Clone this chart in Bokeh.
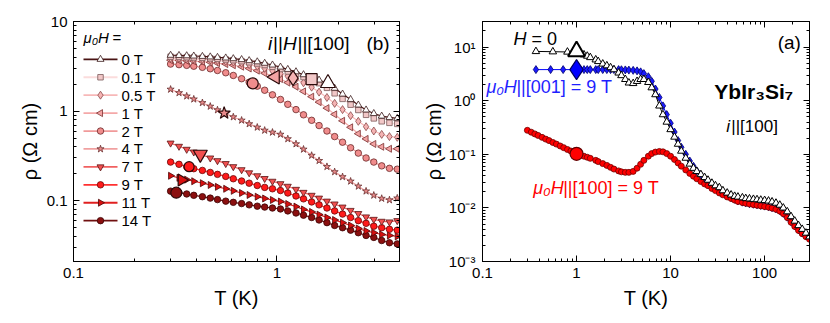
import math
from bokeh.plotting import figure
from bokeh.layouts import row
from bokeh.models import (FixedTicker, LogAxis, CustomJSTickFormatter, Label, Range1d)
from bokeh.embed import file_html
from bokeh.resources import INLINE

FONT = "Liberation Sans"

# ---------------- Panel (b): rho(T) at several fields, i||H||[100] ----------------
T_b = [0.30, 0.33, 0.36, 0.39, 0.43, 0.47, 0.51, 0.56, 0.61, 0.67, 0.73, 0.80, 0.87, 0.95,
       1.04, 1.13, 1.24, 1.35, 1.48, 1.61, 1.76, 1.92, 2.10, 2.30, 2.51, 2.74, 2.99, 3.27, 3.57, 3.90]
field_labels = ["0 T", "0.1 T", "0.5 T", "1 T", "2 T", "4 T", "7 T", "9 T", "11 T", "14 T"]
rho_0T = [4.20, 4.18, 4.15, 4.12, 4.08, 4.03, 3.98, 3.92, 3.85, 3.76, 3.66, 3.55, 3.42, 3.27,
          3.10, 2.92, 2.75, 2.55, 2.38, 2.22, 2.05, 1.80, 1.55, 1.35, 1.17, 1.03, 0.94, 0.88, 0.85, 0.83]
rho_01T = [4.05, 4.03, 4.00, 3.97, 3.93, 3.88, 3.83, 3.77, 3.70, 3.61, 3.51, 3.40, 3.27, 3.12,
           2.95, 2.77, 2.58, 2.40, 2.25, 2.05, 1.82, 1.58, 1.37, 1.18, 1.03, 0.91, 0.83, 0.77, 0.74, 0.72]
rho_05T = [3.90, 3.88, 3.85, 3.82, 3.78, 3.73, 3.67, 3.60, 3.52, 3.42, 3.30, 3.16, 3.00, 2.82,
           2.63, 2.45, 2.27, 2.07, 1.85, 1.63, 1.42, 1.22, 1.04, 0.89, 0.77, 0.67, 0.60, 0.55, 0.52, 0.51]
rho_1T = [3.70, 3.68, 3.65, 3.61, 3.56, 3.50, 3.43, 3.35, 3.25, 3.13, 2.99, 2.83, 2.65, 2.47,
          2.28, 2.08, 1.87, 1.66, 1.45, 1.26, 1.08, 0.92, 0.78, 0.66, 0.56, 0.49, 0.43, 0.40, 0.38, 0.38]
rho_2T = [3.35, 3.30, 3.24, 3.17, 3.08, 2.97, 2.84, 2.68, 2.50, 2.30, 2.10, 1.90, 1.71, 1.52,
          1.35, 1.19, 1.04, 0.91, 0.79, 0.69, 0.60, 0.52, 0.45, 0.39, 0.34, 0.30, 0.27, 0.245, 0.23, 0.225]
rho_4T = [1.75, 1.60, 1.47, 1.36, 1.24, 1.13, 1.03, 0.94, 0.86, 0.79, 0.72, 0.66, 0.61, 0.58,
          0.55, 0.49, 0.43, 0.375, 0.32, 0.28, 0.24, 0.21, 0.185, 0.165, 0.145, 0.128, 0.115, 0.106, 0.102, 0.107]
rho_7T = [0.44, 0.405, 0.375, 0.35, 0.325, 0.30, 0.28, 0.26, 0.24, 0.222, 0.205, 0.19, 0.177, 0.165,
          0.155, 0.145, 0.134, 0.124, 0.115, 0.107, 0.099, 0.092, 0.085, 0.078, 0.072, 0.066, 0.062, 0.059, 0.058, 0.060]
rho_9T = [0.27, 0.255, 0.24, 0.228, 0.218, 0.207, 0.197, 0.187, 0.176, 0.166, 0.157, 0.148, 0.141, 0.136,
          0.130, 0.122, 0.113, 0.105, 0.097, 0.090, 0.083, 0.077, 0.071, 0.065, 0.060, 0.056, 0.052, 0.050, 0.048, 0.047]
rho_11T = [0.19, 0.18, 0.172, 0.165, 0.157, 0.150, 0.143, 0.136, 0.129, 0.122, 0.116, 0.111, 0.106, 0.102,
           0.098, 0.092, 0.086, 0.080, 0.075, 0.070, 0.065, 0.061, 0.057, 0.053, 0.049, 0.046, 0.044, 0.042, 0.041, 0.040]
rho_14T = [0.128, 0.123, 0.119, 0.115, 0.111, 0.107, 0.103, 0.099, 0.096, 0.093, 0.090, 0.087, 0.085, 0.083,
           0.081, 0.077, 0.073, 0.069, 0.065, 0.061, 0.057, 0.053, 0.050, 0.047, 0.044, 0.041, 0.039, 0.036, 0.034, 0.033]
rho_b = [rho_0T, rho_01T, rho_05T, rho_1T, rho_2T, rho_4T, rho_7T, rho_9T, rho_11T, rho_14T]
# highlighted (large) symbols
big_T_b = [1.78, 1.48, 1.20, 0.98, 0.76, 0.55, 0.42, 0.37, 0.34, 0.32]
big_rho_b = [2.05, 2.27, 2.33, 2.40, 2.04, 0.95, 0.33, 0.24, 0.17, 0.123]

markers_b = ["triangle", "square", "diamond", "triangle", "circle", "star",
             "inverted_triangle", "circle", "triangle", "circle"]
angles_b = [0, 0, 0, math.pi / 2, 0, 0, 0, 0, -math.pi / 2, 0]
fills_b = ["#ffffff", "#f2c8c8", "#f5b3b3", "#f3a3a3", "#f08c8c", "#e98a8a",
           "#f25050", "#ff1a1a", "#d81010", "#8b0f0f"]
lines_b = ["#4a1414", "#fbdcdc", "#f7b8b8", "#f4a8a8", "#f09a9a", "#f0a0a0",
           "#f06060", "#ff3030", "#e02020", "#701010"]
edges_b = ["#3a1a1a", "#7a5a5a", "#8a4a4a", "#7a3030", "#6a2a2a", "#6a3030",
           "#5a1515", "#6a0a0a", "#4a0505", "#3a0505"]
sizes_b = [7, 5.5, 8, 7, 6.5, 7.5, 7, 6.5, 7, 6.5]
bigsizes_b = [15, 11, 15, 14, 11, 13, 14, 10, 12, 11]

# ---------------- Panel (a): rho(T) of YbIr3Si7, i||[100] ----------------
T_a = [1.0, 1.1, 1.2, 1.3, 1.4, 1.6, 1.7, 1.9, 2.1, 2.3, 2.5, 2.8, 3.0, 3.3, 3.6, 4.0, 4.4, 4.8, 5.2, 5.8,
       6.3, 6.9, 7.6, 8.3, 9.1, 10, 11, 12, 13, 14.5, 16, 17.5, 19, 21, 23, 25, 27.5, 30, 33, 36,
       40, 44, 48, 52, 58, 63, 69, 76, 83, 91, 100, 110, 120, 132, 145, 158, 174, 191, 209, 229,
       251, 275, 300]
T_a_low_H0 = [0.37, 0.56, 0.80]
rho_a_low_H0 = [8.3, 8.2, 8.1]
rho_a_H0 = [8.0, 7.6, 7.2, 6.8, 6.4, 5.8, 5.4, 4.85, 4.5, 4.15, 3.8, 3.3, 2.95, 2.5, 2.15, 2.1, 2.3, 2.5, 2.5, 2.2,
            1.75, 1.3, 0.8, 0.55, 0.40, 0.29, 0.21, 0.155, 0.115, 0.085, 0.066, 0.055, 0.048, 0.042, 0.037, 0.033,
            0.029, 0.026, 0.024, 0.021, 0.019, 0.0175, 0.0165, 0.016, 0.0155, 0.015, 0.0148, 0.0145, 0.0143, 0.014,
            0.0138, 0.0135, 0.013, 0.0123, 0.0113, 0.0100, 0.0085, 0.0069, 0.0057, 0.0047, 0.0040, 0.0034, 0.0029]
T_a_low_001 = [0.37, 0.53, 0.72]
rho_a_low_001 = [3.8, 3.8, 3.8]
rho_a_001 = [3.8, 3.8, 3.8, 3.8, 3.8, 3.8, 3.8, 3.8, 3.8, 3.8, 3.8, 3.8, 3.78, 3.75, 3.72, 3.68, 3.6, 3.45, 3.2, 2.8,
             2.3, 1.65, 1.15, 0.8, 0.55, 0.38, 0.26, 0.18, 0.135, 0.1, 0.075, 0.06, 0.049, 0.041, 0.035, 0.031,
             0.027, 0.024, 0.021, 0.019, 0.017, 0.0155, 0.0145, 0.0135, 0.0128, 0.0124, 0.012, 0.0117, 0.0114, 0.0111,
             0.0108, 0.0105, 0.0101, 0.0096, 0.0089, 0.0079, 0.0067, 0.0055, 0.0046, 0.0039, 0.0034, 0.003, 0.0027]
T_a_low_100 = [0.30, 0.33, 0.36, 0.39, 0.43, 0.47, 0.51, 0.56, 0.61, 0.67, 0.73, 0.80, 0.87, 0.95]
rho_a_low_100 = [0.28, 0.258, 0.240, 0.225, 0.207, 0.192, 0.180, 0.166, 0.155, 0.143, 0.133, 0.123, 0.115, 0.107]
rho_a_100 = [0.102, 0.097, 0.092, 0.088, 0.084, 0.077, 0.073, 0.067, 0.062, 0.057, 0.053, 0.049, 0.047, 0.046, 0.046,
             0.048, 0.055, 0.065, 0.077, 0.092, 0.103, 0.11, 0.113, 0.111, 0.103, 0.092, 0.08, 0.069, 0.06, 0.051,
             0.044, 0.039, 0.035, 0.031, 0.028, 0.026, 0.023, 0.021, 0.019, 0.0175, 0.016, 0.015, 0.014, 0.0132,
             0.0126, 0.0122, 0.0118, 0.0115, 0.0112, 0.0109, 0.0106, 0.0103, 0.0099, 0.0094, 0.0087, 0.0078, 0.0066,
             0.0054, 0.0045, 0.0038, 0.0033, 0.0029, 0.0026]
big_T_a = [1.0, 1.0, 1.0]
big_rho_a = [8.3, 3.8, 0.102]

x_title = "T (K)"
y_title = "\u03c1 (\u03a9 cm)"

H = 320  # canvas height

# frame geometry (page pixels) used for placing legend / annotation texts
B_XR, B_YR = (0.1, 4.0), (0.021, 10.0)
B_L, B_R, B_T, B_B = 73, 399, 21, 262
A_XR, A_YR = (0.1, 300.0), (0.001, 30.0)
A_L, A_R, A_T, A_B = 482, 809, 18, 261


def bx(px):
    lo, hi = math.log10(B_XR[0]), math.log10(B_XR[1])
    return 10 ** (lo + (px - B_L) * (hi - lo) / (B_R - B_L))


def by(py):
    lo, hi = math.log10(B_YR[0]), math.log10(B_YR[1])
    return 10 ** (lo + (B_B - py) * (hi - lo) / (B_B - B_T))


def minor_list(e0, e1, hi):
    out = []
    for e in range(e0, e1 + 1):
        for m in range(2, 10):
            v = m * 10.0 ** e
            if v <= hi:
                out.append(v)
    return out


def style_axis(ax, ticks, minor, standoff, labels=True, formatter=None):
    ax.ticker = FixedTicker(ticks=ticks, minor_ticks=minor)
    ax.major_tick_in = 6
    ax.major_tick_out = 0
    ax.minor_tick_in = 3
    ax.minor_tick_out = 0
    ax.axis_line_color = "black"
    ax.major_tick_line_color = "black"
    ax.minor_tick_line_color = "black"
    ax.major_label_text_font = FONT
    ax.major_label_text_color = "black"
    if labels:
        ax.major_label_text_font_size = "15px"
        ax.major_label_standoff = standoff
    else:
        ax.major_label_text_font_size = "1px"
        ax.major_label_text_alpha = 0
        ax.major_label_standoff = 0
    if formatter is not None:
        ax.formatter = formatter


def set_title(ax, text, standoff):
    ax.axis_label = text
    ax.axis_label_text_font = FONT
    ax.axis_label_text_font_size = "20px"
    ax.axis_label_text_font_style = "normal"
    ax.axis_label_text_color = "black"
    ax.axis_label_standoff = standoff


def make_fig(width, xr, yr, mbl, mbr, mbt, mbb):
    p = figure(width=width, height=H, x_axis_type="log", y_axis_type="log",
               x_range=Range1d(*xr), y_range=Range1d(*yr),
               output_backend="svg", toolbar_location=None,
               min_border_left=mbl, min_border_right=mbr, min_border_top=mbt, min_border_bottom=mbb)
    p.xgrid.visible = False
    p.ygrid.visible = False
    p.outline_line_color = "black"
    p.outline_line_width = 1
    p.background_fill_color = "white"
    p.border_fill_color = "white"
    return p


def txt(p, x, y, s, size, style="normal", color="black", align="left", xoff=0, baseline="middle"):
    p.add_layout(Label(x=x, y=y, text=s, text_font=FONT, text_font_size=size,
                       text_font_style=style, text_color=color, text_align=align,
                       text_baseline=baseline, x_offset=xoff))


plain_fmt = CustomJSTickFormatter(code="return tick < 1 ? tick.toFixed(1) : tick.toFixed(0);")
sup_fmt = CustomJSTickFormatter(code="""
const e = Math.round(Math.log10(tick));
const sup = {"-": "\u207b", "0": "\u2070", "1": "\u00b9", "2": "\u00b2", "3": "\u00b3"};
return "10" + String(e).split("").map(c => sup[c]).join("");
""")

# ---------------- build panel (b) ----------------
pb = make_fig(418, B_XR, B_YR, B_L, 418 - B_R, B_T, H - B_B)
style_axis(pb.xaxis[0], [0.1, 1, 10], minor_list(-1, 0, 4.0), 6, True, plain_fmt)
style_axis(pb.yaxis[0], [0.1, 1, 10], minor_list(-2, 0, 10.0), 6, True, plain_fmt)
set_title(pb.xaxis[0], x_title, 6)
set_title(pb.yaxis[0], y_title, 3)
ax_top = LogAxis()
style_axis(ax_top, [0.1, 1, 10], minor_list(-1, 0, 4.0), 0, False)
pb.add_layout(ax_top, "above")
ax_right = LogAxis()
style_axis(ax_right, [0.1, 1, 10], minor_list(-2, 0, 10.0), 0, False)
pb.add_layout(ax_right, "right")

for i in reversed(range(len(field_labels))):
    pb.line(T_b, rho_b[i], line_color=lines_b[i], line_width=1.2)
    pb.scatter(T_b, rho_b[i], marker=markers_b[i], angle=angles_b[i], size=sizes_b[i],
               fill_color=fills_b[i], line_color=edges_b[i], line_width=0.8)
for i in range(len(field_labels)):
    pb.scatter([big_T_b[i]], [big_rho_b[i]], marker=markers_b[i], angle=angles_b[i], size=bigsizes_b[i],
               fill_color=fills_b[i], line_color="#2a0a0a", line_width=1.2)

# legend (drawn by hand so that rotated triangles keep their direction)
txt(pb, bx(83), by(37), "\u03bc\u2080H", "15px", "italic")
txt(pb, bx(83), by(37), "=", "15px", xoff=29)
for i, lab in enumerate(field_labels):
    yy = by(59 + 18 * i)
    pb.line([bx(83), bx(117)], [yy, yy], line_color=lines_b[i], line_width=1.8)
    pb.scatter([bx(100)], [yy], marker=markers_b[i], angle=angles_b[i], size=sizes_b[i],
               fill_color=fills_b[i], line_color=edges_b[i], line_width=0.8)
    txt(pb, bx(121), yy, lab, "15px")

txt(pb, 0.903, 5.7, "i", "19px", "italic")
txt(pb, 0.903, 5.7, "||", "19px", xoff=5)
txt(pb, 0.903, 5.7, "H", "19px", "italic", xoff=15)
txt(pb, 0.903, 5.7, "||[100]", "19px", xoff=29.5)
txt(pb, 3.58, 5.7, "(b)", "19px", align="right")

# ---------------- build panel (a) ----------------
pa = make_fig(404, A_XR, A_YR, A_L - 418, 822 - A_R, A_T, H - A_B)
style_axis(pa.xaxis[0], [0.1, 1, 10, 100], minor_list(-1, 2, 300.0), 6, True, plain_fmt)
style_axis(pa.yaxis[0], [0.001, 0.01, 0.1, 1, 10], minor_list(-3, 1, 30.0), 7, True, sup_fmt)
set_title(pa.xaxis[0], x_title, 6)
set_title(pa.yaxis[0], y_title, 1)
ax_top_a = LogAxis()
style_axis(ax_top_a, [0.1, 1, 10, 100], minor_list(-1, 2, 300.0), 0, False)
pa.add_layout(ax_top_a, "above")
ax_right_a = LogAxis()
style_axis(ax_right_a, [0.001, 0.01, 0.1, 1, 10], minor_list(-3, 1, 30.0), 0, False)
pa.add_layout(ax_right_a, "right")

# H || [001] = 9 T (blue)
pa.line(T_a_low_001 + T_a, rho_a_low_001 + rho_a_001, line_color="#0000ff", line_width=1)
pa.scatter(T_a_low_001 + T_a, rho_a_low_001 + rho_a_001, marker="diamond", size=8,
           fill_color="#1a1aff", line_color="#000070", line_width=0.8)
# H || [100] = 9 T (red)
pa.line(T_a_low_100 + T_a, rho_a_low_100 + rho_a_100, line_color="#b00000", line_width=1)
pa.scatter(T_a_low_100 + T_a, rho_a_low_100 + rho_a_100, marker="circle", size=6,
           fill_color="#ff0000", line_color="#700000", line_width=0.8)
# H = 0 (black open triangles)
pa.line(T_a_low_H0 + T_a, rho_a_low_H0 + rho_a_H0, line_color="black", line_width=1)
pa.scatter(T_a_low_H0 + T_a, rho_a_low_H0 + rho_a_H0, marker="triangle", size=7.5,
           fill_color="white", line_color="black", line_width=1)
# highlighted symbols
pa.scatter([big_T_a[0]], [big_rho_a[0]], marker="triangle", size=17, fill_color="white",
           line_color="black", line_width=2)
pa.scatter([big_T_a[1]], [big_rho_a[1]], marker="diamond", size=20, fill_color="#0000ff",
           line_color="#000060", line_width=1.2)
pa.scatter([big_T_a[2]], [big_rho_a[2]], marker="circle", size=13, fill_color="#ff0000",
           line_color="#600000", line_width=1.2)

txt(pa, 0.213, 14.0, "H", "18px", "italic")
txt(pa, 0.213, 14.0, "= 0", "18px", xoff=18)
txt(pa, 243, 12.4, "(a)", "19px", align="right")
txt(pa, 29.2, 1.46, "YbIr\u2083Si\u2087", "21px", "bold")
txt(pa, 39.1, 0.33, "i", "17px", "italic")
txt(pa, 39.1, 0.33, "||[100]", "17px", xoff=5)
txt(pa, 0.110, 1.81, "\u03bc\u2080H", "18px", "italic", color="#1f1fff")
txt(pa, 0.110, 1.81, "||[001] = 9 T", "18px", color="#1f1fff", xoff=30)
txt(pa, 0.346, 0.024, "\u03bc\u2080H", "18px", "italic", color="#ff0000")
txt(pa, 0.346, 0.024, "||[100] = 9 T", "18px", color="#ff0000", xoff=30)

layout = row(pb, pa)
open("out.html", "w", encoding="utf-8").write(file_html(layout, INLINE, title="YbIr3Si7 resistivity"))
